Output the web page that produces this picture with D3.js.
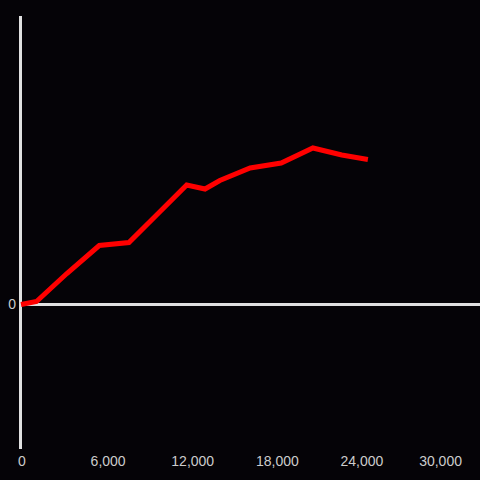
<!DOCTYPE html>
<html><head><meta charset="utf-8">
<script src="https://cdn.jsdelivr.net/npm/d3@7"></script>
<style>
html,body{margin:0;padding:0;background:#050307;}
svg{display:block;}
</style></head>
<body>
<svg id="c" width="480" height="480"></svg>
<script>
const xValues = [0, 1100, 3250, 5550, 7650, 9650, 11750, 13050, 14100, 16250, 18450, 20700, 22750, 24600];
const yValues = [0, 3, 31, 59, 62, 90, 119.5, 115.5, 124, 136.5, 141.5, 156.5, 149.5, 145];
const xTicks = [0, 6000, 12000, 18000, 24000, 30000];
const yTicks = [0];

const svg = d3.select("#c");
svg.append("rect").attr("width",480).attr("height",480).attr("fill","#050307");

const x = d3.scaleLinear().domain([0, 32550]).range([21, 480]);
const y = d3.scaleLinear().domain([-144.5, 288.5]).range([449, 16]);

// y axis line
svg.append("line").attr("x1",20.5).attr("x2",20.5).attr("y1",y(288.5)).attr("y2",y(-144.5))
  .attr("stroke","#e0e0e0").attr("stroke-width",3);
// zero line
svg.append("line").attr("x1",20).attr("x2",480).attr("y1",y(0)).attr("y2",y(0))
  .attr("stroke","#e0e0e0").attr("stroke-width",3);

// x tick labels
const xa = d3.axisBottom(x).tickValues(xTicks).tickSize(0).tickPadding(0).tickFormat(d3.format(","));
const gx = svg.append("g").attr("transform","translate(0,456)").call(xa);
gx.select(".domain").remove();
gx.selectAll("text").attr("fill","#cccccc").attr("font-family","Liberation Sans, Arial, sans-serif").attr("font-size",14)
  .attr("dx", (d,i)=> i===0 ? 0.5 : (i===5 ? -4 : 2));

// y tick labels
const ya = d3.axisLeft(y).tickValues(yTicks).tickSize(0).tickPadding(0);
const gy = svg.append("g").attr("transform","translate(16,0)").call(ya);
gy.select(".domain").remove();
gy.selectAll("text").attr("fill","#cccccc").attr("font-family","Liberation Sans, Arial, sans-serif").attr("font-size",14);

// line
const line = d3.line().x((d,i)=>x(xValues[i])).y(d=>y(d));
svg.append("path").datum(yValues).attr("d",line).attr("fill","none")
  .attr("stroke","#ff0000").attr("stroke-width",5).attr("stroke-linejoin","miter");
</script>
</body></html>
